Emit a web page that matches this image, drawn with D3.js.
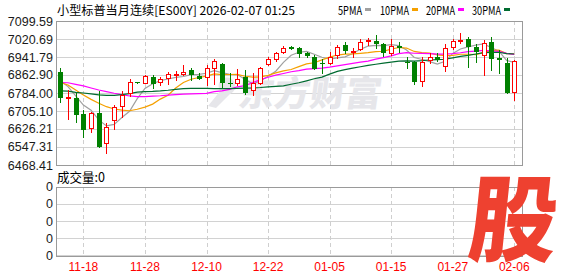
<!DOCTYPE html>
<html><head><meta charset="utf-8">
<script src="https://cdn.jsdelivr.net/npm/d3@7"></script>
<style>body{margin:0;background:#fff}svg{display:block}</style>
</head><body>
<svg id="c" width="578" height="276"></svg>
<script>
// ---------------- data ----------------
const dates = ["11-13","11-14","11-17","11-18","11-19","11-20","11-21","11-24","11-25","11-26","11-27","11-28",
"12-01","12-02","12-03","12-04","12-05","12-08","12-09","12-10","12-11","12-12","12-15","12-16","12-17","12-18","12-19",
"12-22","12-23","12-24","12-26","12-29","12-30","12-31","01-02","01-05","01-06","01-07","01-08","01-09","01-12","01-13",
"01-14","01-15","01-16","01-19","01-20","01-21","01-22","01-23","01-26","01-27","01-28","01-29","01-30","02-02","02-03",
"02-04","02-05","02-06"];
const tickDates = ["11-18","11-28","12-10","12-22","01-05","01-15","01-27","02-06"];
const opens  = [6874.7,6764.0,6760.8,6690.6,6629.3,6695.0,6563.5,6664.3,6728.3,6782.7,6831.5,6829.2,6852.8,6832.2,6848.4,6865.0,6867.3,6884.8,6859.8,6852.8,
6892.3,6912.4,6830.0,6829.2,6852.8,6797.2,6826.5,6911.1,6933.0,6962.4,6984.0,6979.9,6958.0,6943.1,6917.0,6914.2,6949.2,6994.4,6964.0,6978.2,
7012.0,7011.9,6998.8,6958.0,6988.0,6921.0,6918.6,6837.9,6928.7,6940.5,6902.3,6984.3,7014.0,7020.7,6987.0,6950.6,7006.2,6937.0,6914.2,6789.7];
const highs  = [6894.9,6797.2,6782.7,6709.5,6702.1,6792.8,6653.8,6731.4,6792.8,6844.0,6832.5,6862.9,6862.9,6855.5,6877.4,6880.4,6908.0,6894.9,6870.3,6906.7,
6931.7,6916.8,6873.0,6890.5,6884.8,6870.3,6899.3,6940.5,6965.0,6990.0,6990.0,6987.0,6963.7,6949.2,6931.7,6962.4,6994.4,7007.5,6979.9,7019.4,
7026.4,7038.2,7004.5,7019.4,7006.2,6940.5,6924.3,6943.1,6958.0,6960.6,6998.8,7019.4,7045.7,7030.8,6998.8,7016.3,7030.8,6972.5,6936.1,6928.7];
const lows   = [6745.9,6671.4,6658.2,6591.1,6614.4,6548.0,6522.3,6624.9,6680.1,6770.9,6829.5,6826.5,6804.6,6819.1,6823.4,6841.0,6862.9,6841.0,6845.4,6819.1,
6822.1,6809.0,6814.7,6819.1,6779.6,6773.9,6823.4,6906.7,6925.6,6958.0,6976.0,6943.1,6943.1,6887.9,6870.3,6909.8,6938.7,6960.6,6943.1,6972.5,
6995.0,6979.9,6946.2,6950.6,6963.7,6892.3,6823.4,6816.0,6914.2,6925.6,6881.7,6975.6,7001.8,6899.3,6921.2,6862.9,6884.8,6870.3,6782.7,6753.3];
const closes = [6765.2,6765.0,6693.3,6624.9,6695.0,6553.0,6633.7,6724.0,6776.6,6830.9,6830.5,6858.5,6826.5,6844.0,6867.3,6868.0,6876.0,6866.0,6851.1,6892.3,
6924.3,6833.5,6828.5,6845.4,6788.4,6826.5,6893.6,6931.7,6958.0,6981.2,6982.0,6960.6,6949.2,6894.9,6916.0,6943.1,6987.0,6972.5,6967.0,7007.5,
7015.0,7001.8,6965.0,6990.0,6986.0,6919.0,6837.9,6921.2,6943.1,6931.7,6979.9,7011.9,7017.0,6991.4,6969.4,7004.5,6936.1,6935.0,6789.7,6924.3];
// moving-average values at the start of the window (need earlier history)
const ma5Head  = [6838,6812,6771,6731];
const ma10Head = [6830,6819,6797,6775,6756,6739,6724,6714,6709];
const ma20Head = [6830,6829,6822,6815,6806,6797,6790,6783,6777,6771,6768,6768,6770,6772,6775,6777,6779,6780,6781];
const ma30Head = [6793,6792,6787,6784,6780,6776,6774,6774,6777,6781,6788,6790,6791,6793,6796,6800,6803,6804,6804,6804,
6803,6803,6803,6804,6805,6806,6808,6811,6813];
const priceTicks = [7099.59,7020.69,6941.79,6862.90,6784.00,6705.10,6626.21,6547.31,6468.41];
const volTickLabels = ["0","0","0","0","0"];
const maNames = ["5PMA","10PMA","20PMA","30PMA"];
const maPeriods = [5,10,20,30];
const maColors = ["#a0a0a0","#f5a000","#ff00ff","#006b30"];
const titleText = "小型标普当月连续[ES00Y] 2026-02-07 01:25";
const volText = "成交量:0";

// ---------------- layout ----------------
const L = 56, R = 523, T = 21, B = 165, VT = 186.7, VB = 255.3;
const svg = d3.select("#c");
const x = d3.scalePoint().domain(dates).range([60.3, 514.3]);
const y = d3.scaleLinear().domain([6468.41, 7099.59]).range([B, T]);
const yv = d3.scalePoint().domain(d3.range(volTickLabels.length)).range([VB, VT]);
const px = v => Math.round(v) + 0.5;

function maSeries(n, head) {
  return closes.map((c, i) => i < n - 1 ? head[i] : d3.mean(closes.slice(i - n + 1, i + 1)));
}
const heads = [ma5Head, ma10Head, ma20Head, ma30Head];
const mas = maPeriods.map((n, k) => maSeries(n, heads[k]));

// grid main
const g = svg.append("g").attr("shape-rendering", "crispEdges");
g.selectAll(".hg").data(priceTicks).enter().append("line")
  .attr("x1", L).attr("x2", R).attr("y1", d => px(y(d))).attr("y2", d => px(y(d)))
  .attr("stroke", "#d2d2d2");
g.selectAll(".vg").data(tickDates).enter().append("line")
  .attr("x1", d => px(x(d))).attr("x2", d => px(x(d))).attr("y1", T).attr("y2", B)
  .attr("stroke", "#cfcfcf").attr("stroke-dasharray", "4,3");
// grid volume
g.selectAll(".hv").data(d3.range(volTickLabels.length)).enter().append("line")
  .attr("x1", L).attr("x2", R).attr("y1", d => px(yv(d))).attr("y2", d => px(yv(d)))
  .attr("stroke", "#d2d2d2");
g.selectAll(".vv").data(tickDates).enter().append("line")
  .attr("x1", d => px(x(d))).attr("x2", d => px(x(d))).attr("y1", VT).attr("y2", VB)
  .attr("stroke", "#cfcfcf").attr("stroke-dasharray", "4,3");

// watermark
const wm = svg.append("g").attr("fill", "#e6e6ea");
wm.append("circle").attr("cx", 227).attr("cy", 86).attr("r", 8.5);
wm.append("path").attr("d", "M221,90 L232,92 L216,108 L208,106 Z");
wm.append("text").attr("x", 238).attr("y", 106)
  .attr("font-family", "Noto Sans CJK SC").attr("font-weight", 900).attr("font-size", 35)
  .attr("textLength", 143).attr("lengthAdjust", "spacingAndGlyphs")
  .attr("transform", "skewX(-8) translate(14,0)")
  .text("东方财富");

// frames
const fr = svg.append("g").attr("shape-rendering", "crispEdges").attr("fill", "none").attr("stroke", "#9a9a9a");
fr.append("rect").attr("x", L + 0.5).attr("y", T + 0.5).attr("width", R - L - 1).attr("height", B - T);
fr.append("rect").attr("x", L + 0.5).attr("y", px(VT)).attr("width", R - L - 1).attr("height", Math.round(VB - VT));

// MA lines
svg.append("clipPath").attr("id", "cp").append("rect").attr("x", L).attr("y", T).attr("width", R - L).attr("height", B - T);
const lg = svg.append("g").attr("clip-path", "url(#cp)");
mas.forEach((m, k) => {
  lg.append("path").datum(m)
    .attr("d", d3.line().x((d, i) => x(dates[i])).y(d => y(d)))
    .attr("fill", "none").attr("stroke", maColors[k]).attr("stroke-width", 1.2);
});

// candles
const cg = svg.append("g").attr("shape-rendering", "crispEdges");
dates.forEach((d, i) => {
  const cx = Math.round(x(d));
  const o = opens[i], c = closes[i], h = highs[i], l = lows[i];
  const up = c >= o;
  const col = up ? "#ff0000" : "#008000";
  const yt = Math.round(y(Math.max(o, c))), yb = Math.round(y(Math.min(o, c)));
  cg.append("line").attr("x1", cx + 0.5).attr("x2", cx + 0.5)
    .attr("y1", Math.round(y(h))).attr("y2", Math.round(y(l)) + 1).attr("stroke", col);
  if (yb - yt < 1) {
    cg.append("line").attr("x1", cx - 2).attr("x2", cx + 3).attr("y1", yt + 0.5).attr("y2", yt + 0.5).attr("stroke", col);
  } else if (up) {
    cg.append("rect").attr("x", cx - 1.5).attr("y", yt + 0.5).attr("width", 4).attr("height", yb - yt)
      .attr("fill", "#fff").attr("stroke", col);
  } else {
    cg.append("rect").attr("x", cx - 2).attr("y", yt).attr("width", 5).attr("height", yb - yt + 1).attr("fill", col);
  }
});

// logo 股 (drawn before the axis labels so they stay on top)
svg.append("text").attr("x", 467).attr("y", 254)
  .attr("font-family", "Noto Sans CJK SC").attr("font-weight", 900).attr("font-size", 94)
  .attr("fill", "#ee4130").attr("textLength", 88).attr("lengthAdjust", "spacingAndGlyphs")
  .attr("transform", "skewX(-6) translate(26,0)")
  .text("股");

// axis labels
const tf = "Liberation Sans, Arial, sans-serif";
svg.selectAll(".yl").data(priceTicks).enter().append("text")
  .attr("x", 53).attr("y", d => y(d) + 4.5).attr("text-anchor", "end")
  .attr("font-family", tf).attr("font-size", 12.5).attr("fill", "#1a1a1a")
  .text(d => d.toFixed(2));
svg.selectAll(".vl").data(volTickLabels).enter().append("text")
  .attr("x", 53).attr("y", (d, i) => yv(i) + 4.5).attr("text-anchor", "end")
  .attr("font-family", tf).attr("font-size", 12.5).attr("fill", "#1a1a1a")
  .text(d => d);
svg.selectAll(".xl").data(tickDates).enter().append("text")
  .attr("x", d => x(d)).attr("y", 271).attr("text-anchor", "middle")
  .attr("font-family", tf).attr("font-size", 12).attr("fill", "#ff0000")
  .text(d => d);

// title
svg.append("text").attr("x", 57).attr("y", 14.5)
  .attr("font-family", "Noto Sans CJK SC").attr("font-size", 12).attr("fill", "#000")
  .attr("textLength", 238).attr("lengthAdjust", "spacingAndGlyphs").text(titleText);
// legend
const legX = [338, 380, 426, 472], legW = [24, 29, 29, 29];
maNames.forEach((n, k) => {
  svg.append("text").attr("x", legX[k]).attr("y", 14.5)
    .attr("font-family", "Noto Sans CJK SC").attr("font-size", 12).attr("fill", "#000")
    .attr("textLength", legW[k]).attr("lengthAdjust", "spacingAndGlyphs").text(n);
  svg.append("rect").attr("x", legX[k] + legW[k] + 3).attr("y", 8).attr("width", 6).attr("height", 3)
    .attr("fill", maColors[k]);
});
svg.append("text").attr("x", 57).attr("y", 181.5)
  .attr("font-family", "Noto Sans CJK SC").attr("font-size", 13).attr("fill", "#000")
  .attr("textLength", 48).attr("lengthAdjust", "spacingAndGlyphs").text(volText);
</script>
</body></html>
